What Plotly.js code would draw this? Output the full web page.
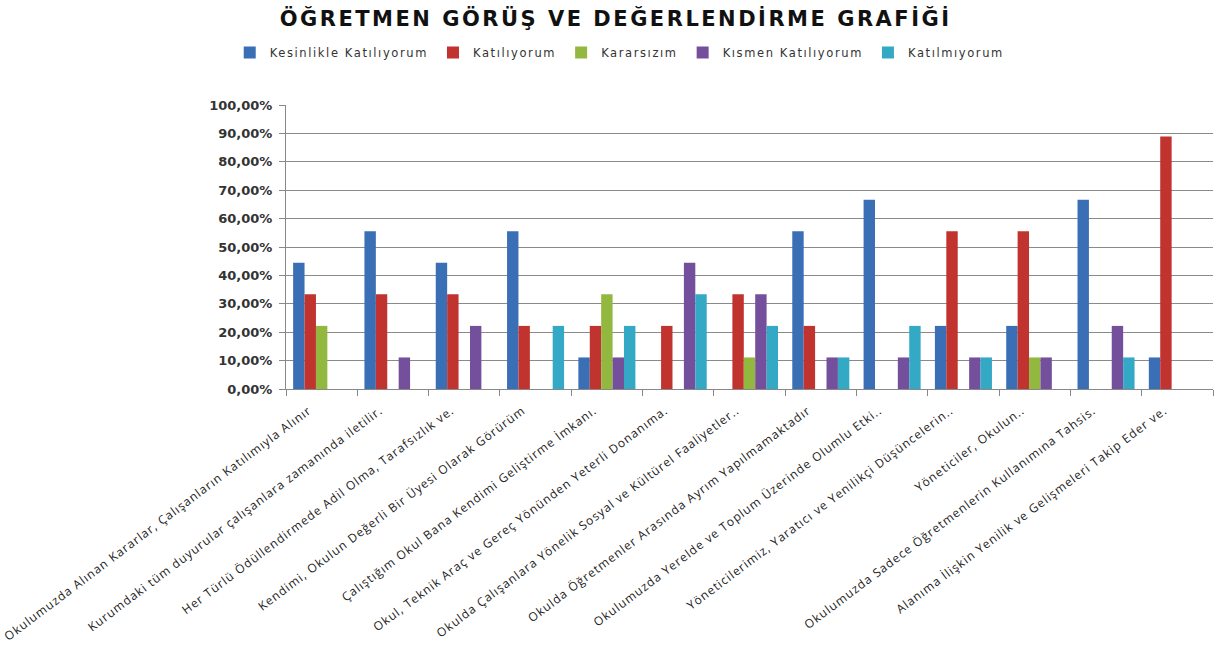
<!DOCTYPE html>
<html><head><meta charset="utf-8">
<script src="https://cdn.plot.ly/plotly-3.0.1.min.js"></script>
<style>
html,body{margin:0;padding:0;background:#fff;}
#chart{width:1219px;height:653px;}
.gtitle{letter-spacing:2.5px;}
.legendtext{letter-spacing:1.6px;}
.xtick text{letter-spacing:1px;}
</style>
</head><body><div id="chart"></div>
<script>
const categories = [
  "Okulumuzda Alınan Kararlar, Çalışanların Katılımıyla Alınır",
  "Kurumdaki tüm duyurular çalışanlara zamanında iletilir.",
  "Her Türlü Ödüllendirmede Adil Olma, Tarafsızlık ve.",
  "Kendimi, Okulun Değerli Bir Üyesi Olarak Görürüm",
  "Çalıştığım Okul Bana Kendimi Geliştirme İmkanı.",
  "Okul, Teknik Araç ve Gereç Yönünden Yeterli Donanıma.",
  "Okulda Çalışanlara Yönelik Sosyal ve Kültürel Faaliyetler..",
  "Okulda Öğretmenler Arasında Ayrım Yapılmamaktadır",
  "Okulumuzda Yerelde ve Toplum Üzerinde Olumlu Etki..",
  "Yöneticilerimiz, Yaratıcı ve Yenilikçi Düşüncelerin..",
  "Yöneticiler, Okulun..",
  "Okulumuzda Sadece Öğretmenlerin Kullanımına Tahsis.",
  "Alanıma İlişkin Yenilik ve Gelişmeleri Takip Eder ve."
];
const seriesNames = ["Kesinlikle Katılıyorum", "Katılıyorum", "Kararsızım", "Kısmen Katılıyorum", "Katılmıyorum"];
const kesinlikle = [0.4444, 0.5556, 0.4444, 0.5556, 0.1111, 0, 0, 0.5556, 0.6667, 0.2222, 0.2222, 0.6667, 0.1111];
const katiliyorum = [0.3333, 0.3333, 0.3333, 0.2222, 0.2222, 0.2222, 0.3333, 0.2222, 0, 0.5556, 0.5556, 0, 0.8889];
const kararsizim = [0.2222, 0, 0, 0, 0.3333, 0, 0.1111, 0, 0, 0, 0.1111, 0, 0];
const kismen = [0, 0.1111, 0.2222, 0, 0.1111, 0.4444, 0.3333, 0.1111, 0.1111, 0.1111, 0.1111, 0.2222, 0];
const katilmiyorum = [0, 0, 0, 0.2222, 0.2222, 0.3333, 0.2222, 0.1111, 0.2222, 0.1111, 0, 0.1111, 0];
const yTicks = [0, 0.1, 0.2, 0.3, 0.4, 0.5, 0.6, 0.7, 0.8, 0.9, 1.0];

const colors = ["#3a6fb6", "#c0332e", "#93b83f", "#74509c", "#33a9c5"];
const allSeries = [kesinlikle, katiliyorum, kararsizim, kismen, katilmiyorum];

const traces = allSeries.map((vals, i) => ({
  type: 'bar', name: seriesNames[i], x: categories, y: vals,
  marker: {color: colors[i], line: {width: 0}},
  hoverinfo: 'x+y+name'
}));

const layout = {
  width: 1219, height: 653,
  margin: {l: 286, r: 6, t: 105, b: 264},
  paper_bgcolor: '#fff', plot_bgcolor: '#fff',
  separators: ',.',
  barmode: 'group', bargap: 0.2, bargroupgap: 0,
  title: {text: 'ÖĞRETMEN GÖRÜŞ VE DEĞERLENDİRME GRAFİĞİ', font: {family: 'DejaVu Sans', size: 21, color: '#111', weight: 'bold'},
    x: 0.505, xref: 'container', xanchor: 'center', y: 0.972, yref: 'container', yanchor: 'middle'},
  showlegend: true,
  legend: {orientation: 'h', x: 0.36, xanchor: 'center', y: 1.185, yanchor: 'middle',
    font: {family: 'DejaVu Sans', size: 11.5, color: '#333'}, itemwidth: 30, traceorder: 'normal'},
  xaxis: {type: 'category', automargin: false, tickangle: -37, tickson: 'boundaries',
    ticks: 'outside', ticklen: 6, tickcolor: '#888', showline: true, linecolor: '#888', linewidth: 1,
    ticklabelshift: -13, ticklabelstandoff: 9,
    showgrid: false, tickfont: {family: 'Open Sans', size: 12, color: '#222'}},
  yaxis: {range: [0, 1], tickvals: yTicks, tickformat: '.2%', automargin: false,
    showline: true, linecolor: '#888', ticks: 'outside', ticklen: 6, tickcolor: '#888', ticklabelstandoff: 4,
    showgrid: true, gridcolor: '#8a8a8a', gridwidth: 1, zeroline: false,
    tickfont: {family: 'DejaVu Sans', size: 13, color: '#333', weight: 'bold'}}
};
Plotly.newPlot('chart', traces, layout, {displayModeBar: false, staticPlot: true});
</script></body></html>
